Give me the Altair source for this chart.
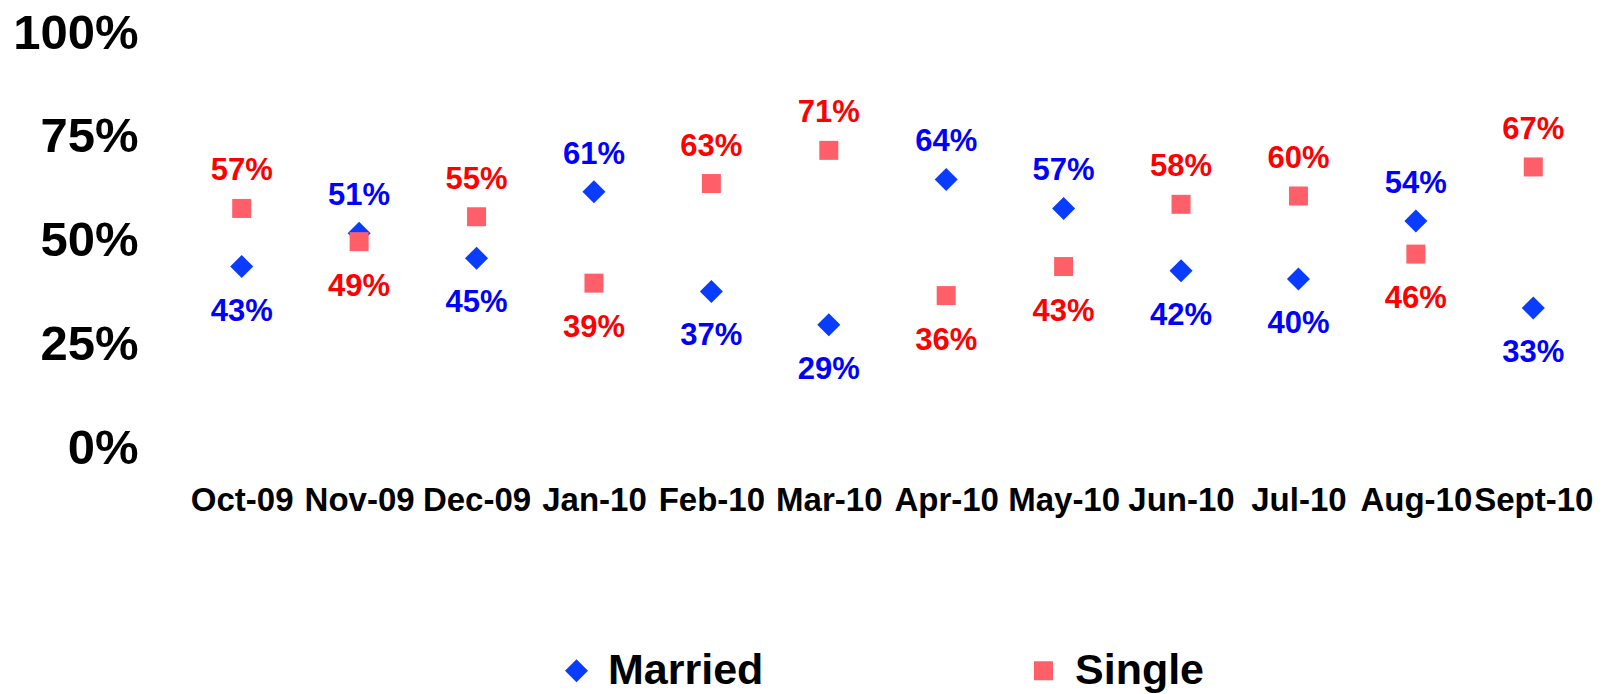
import altair as alt
import pandas as pd

months = ["Oct-09", "Nov-09", "Dec-09", "Jan-10", "Feb-10", "Mar-10",
          "Apr-10", "May-10", "Jun-10", "Jul-10", "Aug-10", "Sept-10"]
married = [43, 51, 45, 61, 37, 29, 64, 57, 42, 40, 54, 33]
single = [57, 49, 55, 39, 63, 71, 36, 43, 58, 60, 46, 67]
series_names = ["Married", "Single"]
y_ticks = [0, 25, 50, 75, 100]

rows = []
for i, m in enumerate(months):
    for name, vals, other in (("Married", married, single), ("Single", single, married)):
        v = vals[i]
        rows.append({"month": m, "series": name, "value": v,
                     "lab": f"{v}%", "pos": "above" if v > other[i] else "below"})
df = pd.DataFrame(rows)

FONT = "Liberation Sans, Arial, sans-serif"
legend = alt.Legend(title=None, orient="none", legendX=372, legendY=619,
                    direction="horizontal", columns=2, padding=0,
                    labelFont=FONT, labelFontSize=43, labelFontWeight="bold",
                    labelColor="#000000", labelOffset=10, labelLimit=400,
                    columnPadding=258)

x = alt.X("month:N", sort=months, title=None,
          axis=alt.Axis(domain=False, ticks=False, tickSize=0, grid=False,
                        labelAngle=0, labelFont=FONT, labelFontSize=33,
                        labelFontWeight="bold", labelColor="#000000",
                        labelBaseline="middle", labelPadding=55))
y = alt.Y("value:Q", title=None,
          scale=alt.Scale(domain=[0, 100], nice=False),
          axis=alt.Axis(values=y_ticks, domain=False, ticks=False, tickSize=0,
                        grid=False, labelExpr="datum.value + '%'",
                        labelFont=FONT, labelFontSize=49, labelFontWeight="bold",
                        labelColor="#000000", labelBaseline="middle",
                        labelOffset=3, labelPadding=45))

points = alt.Chart(df).mark_point(filled=True, opacity=1).encode(
    x=x, y=y,
    color=alt.Color("series:N", sort=series_names,
                    scale=alt.Scale(domain=series_names, range=["#0A3CFF", "#FF5F69"]),
                    legend=legend),
    shape=alt.Shape("series:N", sort=series_names,
                    scale=alt.Scale(domain=series_names, range=["diamond", "square"]),
                    legend=legend),
    size=alt.Size("series:N", sort=series_names,
                  scale=alt.Scale(domain=series_names, range=[530, 361]),
                  legend=legend),
)

def labels(pos, dy):
    return alt.Chart(df).transform_filter(alt.datum.pos == pos).mark_text(
        dy=dy, baseline="middle", align="center", font=FONT, fontSize=31,
        fontWeight="bold").encode(
        x=x, y=y, text="lab:N",
        fill=alt.Fill("series:N",
                      scale=alt.Scale(domain=series_names, range=["#0000FF", "#FF0000"]),
                      legend=None),
    )

chart = alt.layer(points, labels("above", -37), labels("below", 45)).properties(
    width=1409, height=415,
    autosize=alt.AutoSizeParams(type="none"),
    padding={"left": 175, "top": 22, "right": 18, "bottom": 249},
).configure(background="white").configure_view(stroke=None, strokeWidth=0)

chart.save("out.html", embed_options={"renderer": "svg", "actions": False})
